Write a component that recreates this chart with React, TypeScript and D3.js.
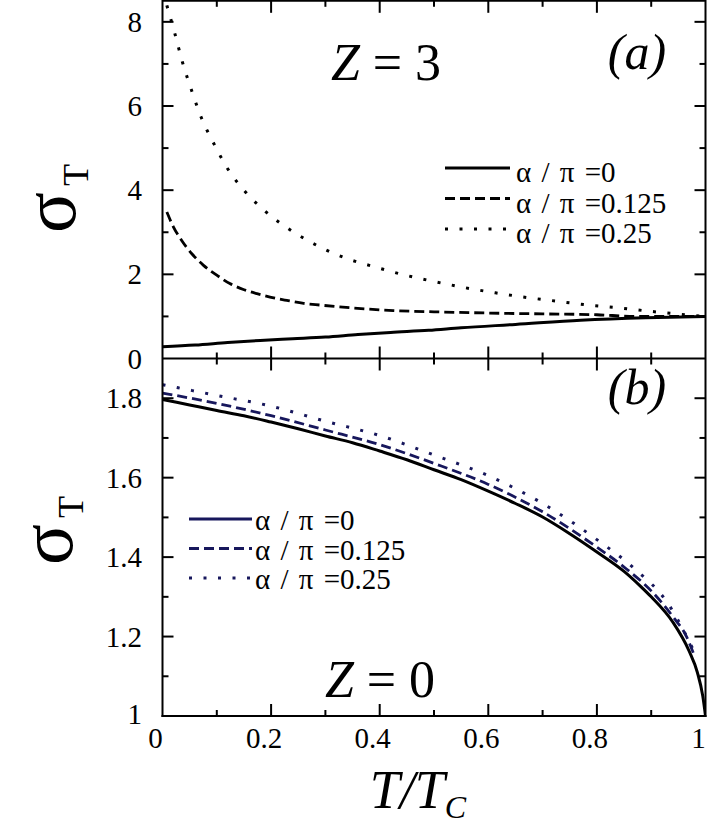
import React from 'react';
import * as d3 from 'd3';

// ---------- data ----------
// Panel (a): Z = 3
const topSolid: [number, number][] = [
  [0, 0.28], [0.06, 0.32], [0.12, 0.38], [0.18, 0.43], [0.24, 0.47], [0.3, 0.51],
  [0.36, 0.57], [0.42, 0.62], [0.49, 0.67], [0.55, 0.73], [0.65, 0.81], [0.77, 0.91],
  [0.89, 0.97], [1.0, 1.0],
];
const topDashed: [number, number][] = [
  [0.008, 3.48], [0.02, 3.13], [0.035, 2.81], [0.054, 2.49], [0.075, 2.22], [0.1, 1.98],
  [0.124, 1.78], [0.149, 1.64], [0.174, 1.54], [0.198, 1.46], [0.229, 1.38], [0.26, 1.31],
  [0.29, 1.27], [0.352, 1.2], [0.425, 1.14], [0.5, 1.11], [0.6, 1.08], [0.7, 1.06],
  [0.8, 1.04], [0.87, 1.0], [0.93, 1.0], [1.0, 1.0],
];
const topDotted: [number, number][] = [
  [0.008, 8.39], [0.023, 7.71], [0.037, 7.03], [0.053, 6.39], [0.071, 5.74], [0.094, 5.12],
  [0.12, 4.51], [0.152, 3.97], [0.191, 3.48], [0.236, 3.05], [0.284, 2.69], [0.336, 2.39],
  [0.39, 2.18], [0.447, 1.98], [0.5, 1.83], [0.554, 1.69], [0.613, 1.56], [0.671, 1.45],
  [0.727, 1.36], [0.785, 1.27], [0.843, 1.2], [0.899, 1.12], [0.954, 1.05], [1.0, 1.0],
];
// Panel (b): Z = 0
const botSolid: [number, number][] = [
  [0, 1.797], [0.05, 1.783], [0.1, 1.769], [0.15, 1.756], [0.2, 1.74], [0.25, 1.723],
  [0.3, 1.705], [0.35, 1.688], [0.4, 1.667], [0.45, 1.645], [0.5, 1.62], [0.55, 1.595],
  [0.6, 1.566], [0.65, 1.535], [0.7, 1.501], [0.75, 1.459], [0.8, 1.413], [0.85, 1.364],
  [0.88, 1.327], [0.9, 1.3], [0.94, 1.236], [0.97, 1.163], [0.985, 1.11], [0.995, 1.05], [1.0, 1.0],
];
const botDashed: [number, number][] = [
  [0, 1.813], [0.1, 1.787], [0.2, 1.756], [0.3, 1.72], [0.4, 1.683], [0.5, 1.636],
  [0.6, 1.583], [0.7, 1.514], [0.8, 1.425], [0.85, 1.375], [0.9, 1.315], [0.94, 1.25],
  [0.965, 1.2], [0.98, 1.15],
];
const botDotted: [number, number][] = [
  [0, 1.834], [0.1, 1.807], [0.2, 1.78], [0.3, 1.742], [0.4, 1.706], [0.5, 1.657],
  [0.6, 1.605], [0.7, 1.535], [0.8, 1.444], [0.87, 1.37], [0.93, 1.285], [0.98, 1.16],
];

const legendLabels = ['α / π =0', 'α / π =0.125', 'α / π =0.25'];
const xTickValues = [0, 0.2, 0.4, 0.6, 0.8, 1];
const xTickLabels = ['0', '0.2', '0.4', '0.6', '0.8', '1'];
const topYTickValues = [0, 2, 4, 6, 8];
const topYTickLabels = ['0', '2', '4', '6', '8'];
const botYTickValues = [1, 1.2, 1.4, 1.6, 1.8];
const botYTickLabels = ['1', '1.2', '1.4', '1.6', '1.8'];

// ---------- layout ----------
const W = 708;
const H = 826;
const X0 = 162.5;
const X1 = 705.5;
const TOP = 0.8;
const MID = 358.5;
const BOT = 716;
const NAVY = '#17175c';

const x = d3.scaleLinear().domain([0, 1]).range([X0, X1]);
const yTop = d3.scaleLinear().domain([0, 8.5]).range([MID, TOP]);
const yBot = d3.scaleLinear().domain([1, 1.9]).range([BOT, MID]);

const DASH = '10 5';
const DOT = '3 11.5';

function linePath(data: [number, number][], y: d3.ScaleLinear<number, number>) {
  return d3
    .line<[number, number]>()
    .x((d) => x(d[0]))
    .y((d) => y(d[1]))
    .curve(d3.curveMonotoneX)(data) as string;
}

const CSS = `
.ser, .ser tspan { font-family: 'Times New Roman', 'Liberation Serif', 'Nimbus Roman', Tinos, serif !important; }
`;

export default function App() {
  const tenths = d3.range(1, 10).map((i) => i / 10);
  const topYAll = d3.range(1, 9);
  const botYAll = d3.range(1, 9).map((i) => 1 + i / 10);
  const isMajorT = (t: number) => Math.abs(Math.round(t * 10) % 2) === 0;
  const isMajorB = (v: number) => Math.round((v - 1) * 10) % 2 === 0;
  const s = { fontFamily: "'Times New Roman'" };

  return (
    <svg width={W} height={H} style={{ position: 'absolute', left: 0, top: 0 }}>
      <style>{CSS}</style>
      <defs>
        <clipPath id="clipTop">
          <rect x={X0} y={0} width={X1 - X0} height={MID} />
        </clipPath>
        <clipPath id="clipBot">
          <rect x={X0} y={MID} width={X1 - X0} height={BOT - MID + 1} />
        </clipPath>
      </defs>
      <rect x={0} y={0} width={W} height={H} fill="#fff" />

      {/* ---------- curves (a) ---------- */}
      <g clipPath="url(#clipTop)" fill="none" stroke="#000">
        <path d={linePath(topSolid, yTop)} strokeWidth={3} />
        <path d={linePath(topDashed, yTop)} strokeWidth={2.8} strokeDasharray={DASH} />
        <path d={linePath(topDotted, yTop)} strokeWidth={3} strokeDasharray={DOT} />
      </g>

      {/* ---------- curves (b) ---------- */}
      <g clipPath="url(#clipBot)" fill="none">
        <path d={linePath(botDotted, yBot)} stroke={NAVY} strokeWidth={3} strokeDasharray={DOT} />
        <path d={linePath(botDashed, yBot)} stroke={NAVY} strokeWidth={2.8} strokeDasharray={DASH} />
        <path d={linePath(botSolid, yBot)} stroke="#000" strokeWidth={3} />
      </g>

      {/* ---------- frame ---------- */}
      <g stroke="#000" strokeWidth={2} fill="none">
        <line x1={X0} x2={X0} y1={0} y2={BOT + 1} />
        <line x1={X1} x2={X1} y1={0} y2={BOT + 1} />
        <line x1={X0} x2={X1} y1={TOP} y2={TOP} />
        <line x1={X0} x2={X1} y1={MID} y2={MID} />
        <line x1={X0 - 1} x2={X1 + 1} y1={BOT} y2={BOT} />
      </g>

      {/* ---------- ticks ---------- */}
      <g stroke="#000" strokeWidth={2}>
        {tenths.map((t) => {
          const L = isMajorT(t) ? 12 : 6;
          return (
            <g key={'xt' + t}>
              <line x1={x(t)} x2={x(t)} y1={TOP} y2={TOP + L} />
              <line x1={x(t)} x2={x(t)} y1={MID - L} y2={MID + L} />
              <line x1={x(t)} x2={x(t)} y1={BOT} y2={BOT - L} />
            </g>
          );
        })}
        {topYAll.map((v) => {
          const L = v % 2 === 0 ? 11 : 6;
          return (
            <g key={'yt' + v}>
              <line x1={X0} x2={X0 + L} y1={yTop(v)} y2={yTop(v)} />
              <line x1={X1} x2={X1 - L} y1={yTop(v)} y2={yTop(v)} />
            </g>
          );
        })}
        {botYAll.map((v) => {
          const L = isMajorB(v) ? 11 : 6;
          return (
            <g key={'yb' + v}>
              <line x1={X0} x2={X0 + L} y1={yBot(v)} y2={yBot(v)} />
              <line x1={X1} x2={X1 - L} y1={yBot(v)} y2={yBot(v)} />
            </g>
          );
        })}
      </g>

      {/* ---------- tick labels ---------- */}
      {topYTickValues.map((v, i) => (
        <text className="ser" style={s} key={'tl' + v} x={142} y={yTop(v) + 10} fontSize={29} textAnchor="end">
          {topYTickLabels[i]}
        </text>
      ))}
      {botYTickValues.map((v, i) => (
        <text className="ser" style={s} key={'bl' + v} x={142} y={yBot(v) + 10 - (i === 0 ? 2 : 0)} fontSize={29} textAnchor="end">
          {botYTickLabels[i]}
        </text>
      ))}
      {xTickValues.map((t, i) => (
        <text className="ser" style={s} key={'xl' + t} x={x(t) - 7} y={748} fontSize={29} textAnchor="middle">
          {xTickLabels[i]}
        </text>
      ))}

      {/* ---------- axis titles ---------- */}
      <g transform="translate(75,233) rotate(-90)">
        <text className="ser" style={s} fontSize={76}>
          σ
          <tspan fontSize={36} dx={6} dy={13}>T</tspan>
        </text>
      </g>
      <g transform="translate(72,565) rotate(-90)">
        <text className="ser" style={s} fontSize={76}>
          σ
          <tspan fontSize={36} dx={6} dy={11}>T</tspan>
        </text>
      </g>
      <text className="ser" style={s} x={418} y={808} textAnchor="middle" fontSize={54} fontStyle="italic">
        T/T
        <tspan fontSize={32} dy={10}>C</tspan>
      </text>

      {/* ---------- annotations ---------- */}
      <text className="ser" style={s} x={386} y={80} textAnchor="middle" fontSize={52}>
        <tspan fontStyle="italic">Z</tspan>
        <tspan> = 3</tspan>
      </text>
      <text className="ser" style={s} x={380} y={697} textAnchor="middle" fontSize={52}>
        <tspan fontStyle="italic">Z</tspan>
        <tspan> = 0</tspan>
      </text>
      <text className="ser" style={s} x={637} y={69} textAnchor="middle" fontSize={50} fontStyle="italic">(a)</text>
      <text className="ser" style={s} x={637} y={404} textAnchor="middle" fontSize={50} fontStyle="italic">(b)</text>

      {/* ---------- legend (a) ---------- */}
      {legendLabels.map((lab, i) => {
        const ly = 168 + i * 30.5;
        return (
          <g key={'la' + i}>
            <line
              x1={445}
              x2={510}
              y1={ly}
              y2={ly}
              stroke="#000"
              strokeWidth={i === 0 ? 3 : 2.8}
              strokeDasharray={i === 0 ? undefined : i === 1 ? DASH : DOT}
            />
            <text className="ser" style={{ ...s, wordSpacing: '3px' }} x={516} y={ly + 14} fontSize={29}>{lab}</text>
          </g>
        );
      })}

      {/* ---------- legend (b) ---------- */}
      {legendLabels.map((lab, i) => {
        const ly = 519 + i * 29.5;
        return (
          <g key={'lb' + i}>
            <line
              x1={189}
              x2={252}
              y1={ly}
              y2={ly}
              stroke={NAVY}
              strokeWidth={i === 0 ? 3 : 2.8}
              strokeDasharray={i === 0 ? undefined : i === 1 ? DASH : DOT}
            />
            <text className="ser" style={{ ...s, wordSpacing: '3px' }} x={255} y={ly + 11} fontSize={29}>{lab}</text>
          </g>
        );
      })}
    </svg>
  );
}
